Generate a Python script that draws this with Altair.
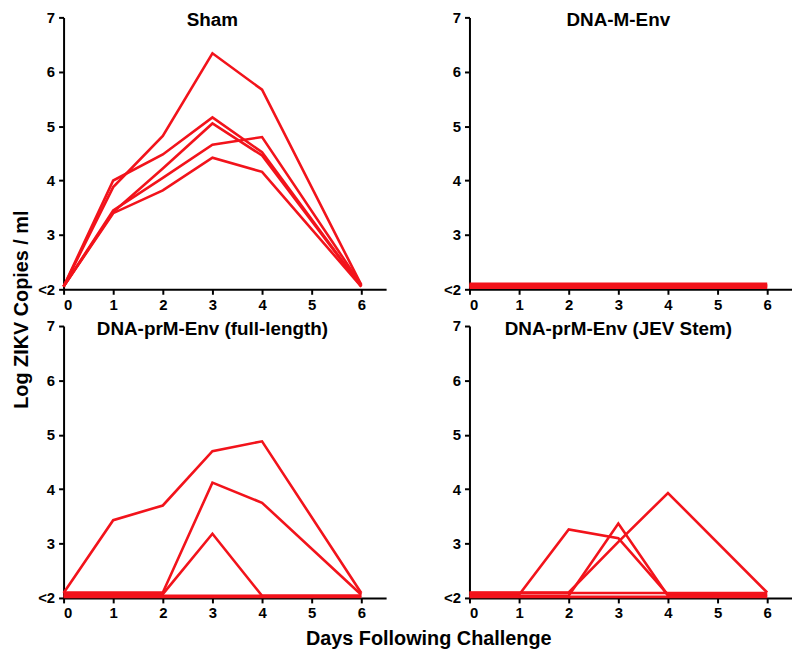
import altair as alt
import pandas as pd

FONT = "Liberation Sans"
RED = "#f2131b"

days = [0, 1, 2, 3, 4, 6]
panel_names = ["Sham", "DNA-M-Env", "DNA-prM-Env (full-length)", "DNA-prM-Env (JEV Stem)"]

# Sham
sham_1 = [2.05, 3.88, 4.82, 6.34, 5.67, 2.08]
sham_2 = [2.05, 4.00, 4.48, 5.16, 4.52, 2.05]
sham_3 = [2.05, 3.42, 4.22, 5.05, 4.46, 2.05]
sham_4 = [2.05, 3.45, 4.05, 4.66, 4.80, 2.08]
sham_5 = [2.05, 3.40, 3.82, 4.42, 4.16, 2.05]

# DNA-M-Env (all below detection)
menv_1 = [2.03, 2.03, 2.03, 2.03, 2.03, 2.03]
menv_2 = [2.05, 2.05, 2.05, 2.05, 2.05, 2.05]
menv_3 = [2.08, 2.08, 2.08, 2.08, 2.08, 2.08]
menv_4 = [2.10, 2.10, 2.10, 2.10, 2.10, 2.10]
menv_5 = [2.065, 2.065, 2.065, 2.065, 2.065, 2.065]

# DNA-prM-Env (full-length)
full_1 = [2.09, 3.43, 3.70, 4.70, 4.88, 2.09]
full_2 = [2.10, 2.10, 2.10, 4.12, 3.75, 2.06]
full_3 = [2.07, 2.07, 2.07, 3.18, 2.04, 2.04]
full_4 = [2.04, 2.04, 2.04, 2.04, 2.04, 2.04]
full_5 = [2.02, 2.02, 2.02, 2.02, 2.02, 2.02]

# DNA-prM-Env (JEV Stem)
jev_1 = [2.06, 2.06, 3.26, 3.10, 2.06, 2.06]
jev_2 = [2.04, 2.04, 2.04, 3.37, 2.04, 2.04]
jev_3 = [2.10, 2.10, 2.10, 3.03, 3.93, 2.10]
jev_4 = [2.02, 2.02, 2.02, 2.02, 2.02, 2.02]
jev_5 = [2.09, 2.09, 2.09, 2.09, 2.09, 2.09]

series = {
    "Sham": [sham_1, sham_2, sham_3, sham_4, sham_5],
    "DNA-M-Env": [menv_1, menv_2, menv_3, menv_4, menv_5],
    "DNA-prM-Env (full-length)": [full_1, full_2, full_3, full_4, full_5],
    "DNA-prM-Env (JEV Stem)": [jev_1, jev_2, jev_3, jev_4, jev_5],
}

rows = []
for p in panel_names:
    for i, vals in enumerate(series[p]):
        for d, v in zip(days, vals):
            rows.append({"panel": p, "animal": f"{p}-{i}", "day": d, "value": v})
df = pd.DataFrame(rows)
titles_df = pd.DataFrame({"panel": panel_names})

x_axis = alt.Axis(values=[0, 1, 2, 3, 4, 5, 6], title=None, tickSize=5, labelPadding=3)
y_axis = alt.Axis(values=[2, 3, 4, 5, 6, 7], title=None, tickSize=5, labelPadding=4,
                  labelExpr="datum.value == 2 ? '<2' : datum.label")

W, H = 325, 274


def panel_chart(name):
    lines = alt.Chart(df).transform_filter(alt.datum.panel == name).mark_line(
        color=RED, strokeWidth=2.6
    ).encode(
        x=alt.X("day:Q", scale=alt.Scale(domain=[0, 6.5], nice=False, zero=False), axis=x_axis),
        y=alt.Y("value:Q", scale=alt.Scale(domain=[2, 7], nice=False, zero=False), axis=y_axis),
        detail="animal:N",
    )
    ttl = alt.Chart(titles_df).transform_filter(alt.datum.panel == name).mark_text(
        font=FONT, fontSize=19, fontWeight="bold", color="black", baseline="middle",
        align="center", dy=3
    ).encode(x=alt.datum(3), y=alt.datum(7), text="panel:N")
    return alt.layer(lines, ttl).properties(width=W, height=H)


row1 = alt.hconcat(panel_chart(panel_names[0]), panel_chart(panel_names[1]), spacing=57)
row2 = alt.hconcat(panel_chart(panel_names[2]), panel_chart(panel_names[3]), spacing=57)
grid = alt.vconcat(row1, row2, spacing=7).properties(
    title=alt.TitleParams("Days Following Challenge", orient="bottom", anchor="middle",
                          offset=8, dx=14, fontSize=20)
)
chart = alt.hconcat(grid).properties(
    title=alt.TitleParams("Log ZIKV Copies / ml", orient="left", anchor="middle",
                          offset=6, dx=20, fontSize=20),
    padding={"left": 3, "top": 0, "right": 0, "bottom": 0},
).configure_axis(
    domainColor="black", domainWidth=2, tickColor="black", tickWidth=2,
    labelColor="black", labelFont=FONT, labelFontWeight="bold", labelFontSize=15, grid=False,
).configure_view(stroke=None).configure_title(
    font=FONT, fontWeight="bold", color="black"
).configure_concat(spacing=0)

chart.save("out.html", embed_options={"renderer": "svg", "actions": False})
